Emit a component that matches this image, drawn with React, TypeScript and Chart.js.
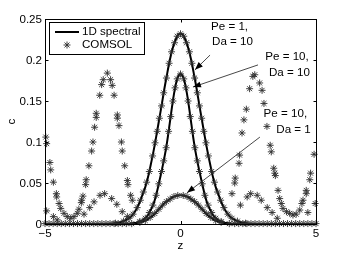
import React, { useEffect, useRef } from "react";
import { Chart, registerables } from "chart.js";

Chart.register(...registerables);

// ---------- data ----------
const zSpectral = [
  -5, -4, -3, -2.6, -2.4, -2.2,
  -2.0, -1.9, -1.8, -1.7, -1.6, -1.5, -1.4, -1.3, -1.2, -1.1,
  -1.0, -0.9, -0.8, -0.7, -0.6, -0.5, -0.4, -0.3, -0.2, -0.1,
  0,
  0.1, 0.2, 0.3, 0.4, 0.5, 0.6, 0.7, 0.8, 0.9, 1.0,
  1.1, 1.2, 1.3, 1.4, 1.5, 1.6, 1.7, 1.8, 1.9, 2.0,
  2.2, 2.4, 2.6, 3, 4, 5,
];

const specPe1Da10 = [
  0, 0, 0, 0.0004, 0.001, 0.0025,
  0.005, 0.007, 0.010, 0.014, 0.020, 0.027, 0.036, 0.045, 0.057, 0.072,
  0.088, 0.106, 0.125, 0.144, 0.164, 0.182, 0.199, 0.213, 0.223, 0.230,
  0.232,
  0.230, 0.223, 0.213, 0.199, 0.182, 0.164, 0.144, 0.125, 0.106, 0.088,
  0.072, 0.057, 0.045, 0.036, 0.027, 0.020, 0.014, 0.010, 0.007, 0.005,
  0.0025, 0.001, 0.0004, 0, 0, 0,
];

const specPe10Da10 = [
  0, 0, 0, 0, 0, 0.0001,
  0.0002, 0.0004, 0.0007, 0.0012, 0.002, 0.003, 0.0045, 0.007, 0.011, 0.017,
  0.024, 0.035, 0.049, 0.064, 0.080, 0.099, 0.122, 0.146, 0.166, 0.179,
  0.183,
  0.179, 0.166, 0.146, 0.122, 0.099, 0.080, 0.064, 0.049, 0.035, 0.024,
  0.017, 0.011, 0.007, 0.0045, 0.003, 0.002, 0.0012, 0.0007, 0.0004, 0.0002,
  0.0001, 0, 0, 0, 0, 0,
];

const specPe10Da1 = [
  0, 0, 0, 0, 0, 0,
  0.0001, 0.0002, 0.0004, 0.0008, 0.0012, 0.002, 0.003, 0.0042, 0.006, 0.0085,
  0.011, 0.0145, 0.018, 0.0215, 0.025, 0.0278, 0.030, 0.0325, 0.034, 0.0348,
  0.035,
  0.0348, 0.034, 0.0325, 0.030, 0.0278, 0.025, 0.0215, 0.018, 0.0145, 0.011,
  0.0085, 0.006, 0.0042, 0.003, 0.002, 0.0012, 0.0008, 0.0004, 0.0002, 0.0001,
  0, 0, 0, 0, 0, 0,
];

// COMSOL points on the centred profiles
const comsolAZ = [
  -2.4, -2.1, -1.9, -1.75, -1.6, -1.48, -1.37, -1.25, -1.15, -1.03, -0.94, -0.86,
  -0.78, -0.7, -0.62, -0.52, -0.42, -0.33, -0.22, -0.12, 0,
  0.12, 0.22, 0.33, 0.42, 0.52, 0.62, 0.7, 0.78, 0.86, 0.94, 1.03, 1.15, 1.25,
  1.37, 1.48, 1.6, 1.75, 1.9, 2.1, 2.4,
];
const comsolAC = [
  0.001, 0.0035, 0.007, 0.012, 0.020, 0.029, 0.039, 0.051, 0.064, 0.083, 0.099, 0.113,
  0.129, 0.144, 0.160, 0.178, 0.196, 0.210, 0.221, 0.229, 0.232,
  0.229, 0.221, 0.210, 0.196, 0.178, 0.160, 0.144, 0.129, 0.113, 0.099, 0.083, 0.064, 0.051,
  0.039, 0.029, 0.020, 0.012, 0.007, 0.0035, 0.001,
];

const comsolBZ = [
  -1.5, -1.3, -1.15, -1.02, -0.9, -0.8, -0.7, -0.62, -0.53, -0.44, -0.36, -0.28, -0.2, -0.12, 0,
  0.12, 0.2, 0.28, 0.36, 0.44, 0.53, 0.62, 0.7, 0.8, 0.9, 1.02, 1.15, 1.3, 1.5,
];
const comsolBC = [
  0.003, 0.007, 0.014, 0.023, 0.035, 0.049, 0.064, 0.077, 0.093, 0.113, 0.131, 0.150, 0.166, 0.177, 0.183,
  0.177, 0.166, 0.150, 0.131, 0.113, 0.093, 0.077, 0.064, 0.049, 0.035, 0.023, 0.014, 0.007, 0.003,
];

const comsolCZ = [
  -1.8, -1.5, -1.3, -1.12, -0.95, -0.8, -0.66, -0.52, -0.38, -0.24, -0.1,
  0.1, 0.24, 0.38, 0.52, 0.66, 0.8, 0.95, 1.12, 1.3, 1.5, 1.8,
];
const comsolCC = [
  0.0004, 0.002, 0.0042, 0.008, 0.0128, 0.018, 0.023, 0.0273, 0.0305, 0.0335, 0.0348,
  0.0348, 0.0335, 0.0305, 0.0273, 0.023, 0.018, 0.0128, 0.008, 0.0042, 0.002, 0.0004,
];

// COMSOL points away from the centre (side peaks)
const comsolSideZ = [
  -4.97, -4.94, -4.82, -4.79, -4.69, -4.58, -4.57, -4.48, -4.42, -4.30, -4.18, -4.05,
  -3.93, -3.81, -3.75, -3.66, -3.65, -3.60, -3.50, -3.48, -3.38, -3.28, -3.23, -3.17,
  -3.11, -3.11, -2.98, -2.91, -2.85, -2.70, -2.58, -2.52, -2.45, -2.33, -2.33, -2.27,
  -2.18, -2.15, -2.06, -1.96, -1.94, -1.84, -1.78,
  1.90, 2.00, 2.02, 2.16, 2.18, 2.27, 2.34, 2.43, 2.55, 2.67, 2.74, 2.92, 3.01, 3.08,
  3.19, 3.31, 3.35, 3.44, 3.48, 3.50, 3.60, 3.66, 3.72, 3.78, 3.91, 4.03, 4.15, 4.27,
  4.40, 4.48, 4.52, 4.64, 4.64, 4.77, 4.80, 4.93,
];
const comsolSideC = [
  0.106, 0.098, 0.075, 0.066, 0.051, 0.037, 0.033, 0.025, 0.019, 0.013, 0.009, 0.007,
  0.009, 0.013, 0.018, 0.026, 0.029, 0.034, 0.048, 0.054, 0.071, 0.089, 0.100, 0.118,
  0.130, 0.135, 0.157, 0.170, 0.176, 0.184, 0.176, 0.169, 0.157, 0.133, 0.129, 0.120,
  0.100, 0.089, 0.071, 0.053, 0.048, 0.035, 0.029,
  0.037, 0.050, 0.056, 0.074, 0.084, 0.111, 0.127, 0.140, 0.165, 0.180, 0.182, 0.172, 0.163, 0.147,
  0.119, 0.096, 0.088, 0.068, 0.062, 0.059, 0.041, 0.031, 0.025, 0.019, 0.015, 0.013, 0.011, 0.012,
  0.017, 0.025, 0.029, 0.037, 0.041, 0.054, 0.062, 0.085,
];

const comsolSmallSideZ = [
  -4.94, -4.69, -4.55, -3.56, -3.35, -3.19, -2.97, -2.80, -2.54, -2.35, -2.15, -1.96,
  2.21, 2.46, 2.59, 2.83, 2.98, 3.20, 3.38, 3.57, 4.70, 4.97,
];
const comsolSmallSideC = [
  0.016, 0.009, 0.005, 0.012, 0.020, 0.027, 0.035, 0.037, 0.031, 0.024, 0.015, 0.009,
  0.023, 0.033, 0.037, 0.035, 0.029, 0.020, 0.014, 0.007, 0.014, 0.025,
];

const comsolBaseZ = [
  -5, -4.85, -4.7, -4.55, -4.4, -4.25, -4.1, -3.95, -3.8, -3.65, -3.5, -3.35, -3.2,
  -3.05, -2.9, -2.75, -2.6, -2.45, -2.3, -2.15, -2.0,
  2.0, 2.15, 2.3, 2.45, 2.6, 2.75, 2.9, 3.05, 3.2, 3.35, 3.5, 3.65, 3.8, 3.95, 4.1,
  4.25, 4.4, 4.55, 4.7, 4.85, 5,
];
const comsolBaseLevel = 0.0005;

const xTicks = [-5, 0, 5];
const xTickLabels = ["\u22125", "0", "5"];
const yTicks = [0, 0.05, 0.1, 0.15, 0.2, 0.25];
const yTickLabels = ["0", "0.05", "0.1", "0.15", "0.2", "0.25"];

const legendLabels = ["1D spectral", "COMSOL"];

const annotationLines = [
  ["Pe = 1,", "Da = 10"],
  ["Pe = 10,", "Da = 10"],
  ["Pe = 10,", "Da = 1"],
];
// text line centres (z, c) for each annotation
const annotationTextPos = [
  [[1.81, 0.240], [1.92, 0.222]],
  [[3.93, 0.204], [4.02, 0.185]],
  [[3.87, 0.135], [4.17, 0.115]],
];
// arrow tail and tip (z, c)
const arrowTail = [[1.09, 0.206], [2.86, 0.194], [2.93, 0.106]];
const arrowTip = [[0.535, 0.188], [0.46, 0.167], [0.24, 0.038]];

const FONT = '11.6px "Liberation Sans", Arial, Helvetica, sans-serif';
const POINT_COLOR = "rgba(45,45,45,0.9)";

function pairs(xs: number[], ys: number[]) {
  return xs.map((x, i) => ({ x, y: ys[i] }));
}

function drawAsterisk(ctx: CanvasRenderingContext2D, x: number, y: number, r: number) {
  ctx.beginPath();
  ctx.moveTo(x - r, y);
  ctx.lineTo(x + r, y);
  ctx.moveTo(x, y - r);
  ctx.lineTo(x, y + r);
  const d = r * 0.7071;
  ctx.moveTo(x - d, y - d);
  ctx.lineTo(x + d, y + d);
  ctx.moveTo(x - d, y + d);
  ctx.lineTo(x + d, y - d);
  ctx.stroke();
}

const overlayPlugin = {
  id: "overlay",
  beforeDraw(chart: any) {
    const ctx = chart.ctx;
    ctx.save();
    ctx.fillStyle = "#fff";
    ctx.fillRect(0, 0, chart.width, chart.height);
    ctx.restore();
  },
  afterDraw(chart: any) {
    const ctx: CanvasRenderingContext2D = chart.ctx;
    const a = chart.chartArea;
    const xs = chart.scales.x;
    const ys = chart.scales.y;
    ctx.save();

    // box
    ctx.strokeStyle = "#000";
    ctx.lineWidth = 1;
    ctx.strokeRect(a.left + 0.5, a.top + 0.5, a.right - a.left, a.bottom - a.top);

    // inward ticks
    ctx.beginPath();
    yTicks.forEach((v) => {
      const py = Math.round(ys.getPixelForValue(v)) + 0.5;
      ctx.moveTo(a.left, py);
      ctx.lineTo(a.left + 3.5, py);
      ctx.moveTo(a.right + 1, py);
      ctx.lineTo(a.right - 2.5, py);
    });
    xTicks.forEach((v) => {
      const px = Math.round(xs.getPixelForValue(v)) + 0.5;
      ctx.moveTo(px, a.bottom);
      ctx.lineTo(px, a.bottom - 3);
      ctx.moveTo(px, a.top);
      ctx.lineTo(px, a.top + 3.5);
    });
    ctx.stroke();

    // tick labels
    ctx.fillStyle = "#000";
    ctx.font = FONT;
    ctx.textAlign = "right";
    ctx.textBaseline = "middle";
    yTicks.forEach((v, i) => {
      ctx.fillText(yTickLabels[i], a.left - 3, ys.getPixelForValue(v) + 1);
    });
    ctx.textAlign = "center";
    xTicks.forEach((v, i) => {
      ctx.fillText(xTickLabels[i], xs.getPixelForValue(v), a.bottom + 10);
    });

    // axis titles
    ctx.fillText("z", (a.left + a.right) / 2, a.bottom + 22);
    ctx.save();
    ctx.translate(12, (a.top + a.bottom) / 2);
    ctx.rotate(-Math.PI / 2);
    ctx.fillText("c", 0, 0);
    ctx.restore();

    // legend
    const lx = a.left + 4;
    const ly = a.top + 3;
    ctx.fillStyle = "#fff";
    ctx.fillRect(lx + 0.5, ly + 0.5, 95, 32);
    ctx.strokeStyle = "#000";
    ctx.lineWidth = 1;
    ctx.strokeRect(lx + 0.5, ly + 0.5, 95, 32);
    ctx.lineWidth = 2;
    ctx.beginPath();
    ctx.moveTo(lx + 6, ly + 10);
    ctx.lineTo(lx + 30, ly + 10);
    ctx.stroke();
    ctx.strokeStyle = POINT_COLOR;
    ctx.lineWidth = 1;
    drawAsterisk(ctx, lx + 18, ly + 23, 3.5);
    ctx.fillStyle = "#000";
    ctx.textAlign = "left";
    ctx.textBaseline = "middle";
    ctx.fillText(legendLabels[0], lx + 33, ly + 10);
    ctx.fillText(legendLabels[1], lx + 33, ly + 23);

    // annotations
    ctx.textAlign = "center";
    annotationLines.forEach((lines, k) => {
      lines.forEach((t, j) => {
        const p = annotationTextPos[k][j];
        ctx.fillText(t, xs.getPixelForValue(p[0]), ys.getPixelForValue(p[1]));
      });
      const x1 = xs.getPixelForValue(arrowTail[k][0]);
      const y1 = ys.getPixelForValue(arrowTail[k][1]);
      const x2 = xs.getPixelForValue(arrowTip[k][0]);
      const y2 = ys.getPixelForValue(arrowTip[k][1]);
      ctx.strokeStyle = "#333";
      ctx.lineWidth = 0.9;
      ctx.beginPath();
      ctx.moveTo(x1, y1);
      ctx.lineTo(x2, y2);
      ctx.stroke();
      const ang = Math.atan2(y2 - y1, x2 - x1);
      const L = 8;
      const W = 3;
      const c = Math.cos(ang);
      const s = Math.sin(ang);
      ctx.fillStyle = "#000";
      ctx.beginPath();
      ctx.moveTo(x2, y2);
      ctx.lineTo(x2 - L * c + W * s, y2 - L * s - W * c);
      ctx.lineTo(x2 - L * c - W * s, y2 - L * s + W * c);
      ctx.closePath();
      ctx.fill();
    });

    ctx.restore();
  },
};

export default function App() {
  const ref = useRef<HTMLCanvasElement | null>(null);

  useEffect(() => {
    if (!ref.current) return;
    const pointDs = (data: { x: number; y: number }[]) => ({
      type: "scatter" as const,
      data,
      showLine: false,
      pointStyle: "star" as const,
      pointRadius: 3.5,
      pointBorderWidth: 1,
      pointBorderColor: POINT_COLOR,
      pointBackgroundColor: POINT_COLOR,
      borderColor: POINT_COLOR,
      clip: false as any,
      order: 0,
    });
    const lineDs = (data: { x: number; y: number }[]) => ({
      type: "scatter" as const,
      data,
      showLine: true,
      borderColor: "#000",
      borderWidth: 2,
      pointRadius: 0,
      cubicInterpolationMode: "monotone" as const,
      fill: false,
      order: 1,
    });

    const chart = new Chart(ref.current, {
      type: "scatter",
      data: {
        datasets: [
          pointDs(pairs(comsolAZ, comsolAC)),
          pointDs(pairs(comsolBZ, comsolBC)),
          pointDs(pairs(comsolCZ, comsolCC)),
          pointDs(pairs(comsolSideZ, comsolSideC)),
          pointDs(pairs(comsolSmallSideZ, comsolSmallSideC)),
          pointDs(comsolBaseZ.map((z) => ({ x: z, y: comsolBaseLevel }))),
          lineDs(pairs(zSpectral, specPe1Da10)),
          lineDs(pairs(zSpectral, specPe10Da10)),
          lineDs(pairs(zSpectral, specPe10Da1)),
        ] as any,
      },
      options: {
        responsive: false,
        animation: false,
        devicePixelRatio: 1,
        layout: { padding: { top: 19, right: 33, left: 0, bottom: 0 } },
        plugins: { legend: { display: false }, tooltip: { enabled: false } },
        scales: {
          x: {
            type: "linear",
            min: -5,
            max: 5,
            ticks: { display: false },
            grid: { display: false, drawTicks: false },
            border: { display: false },
            afterFit: (s: any) => {
              s.height = 30;
            },
          },
          y: {
            type: "linear",
            min: 0,
            max: 0.25,
            ticks: { display: false },
            grid: { display: false, drawTicks: false },
            border: { display: false },
            afterFit: (s: any) => {
              s.width = 45;
            },
          },
        },
      } as any,
      plugins: [overlayPlugin],
    });
    return () => chart.destroy();
  }, []);

  return (
    <div style={{ position: "fixed", left: 0, top: 0, width: 349, height: 254, background: "#fff" }}>
      <canvas ref={ref} width={349} height={254} style={{ display: "block", width: 349, height: 254 }} />
    </div>
  );
}
